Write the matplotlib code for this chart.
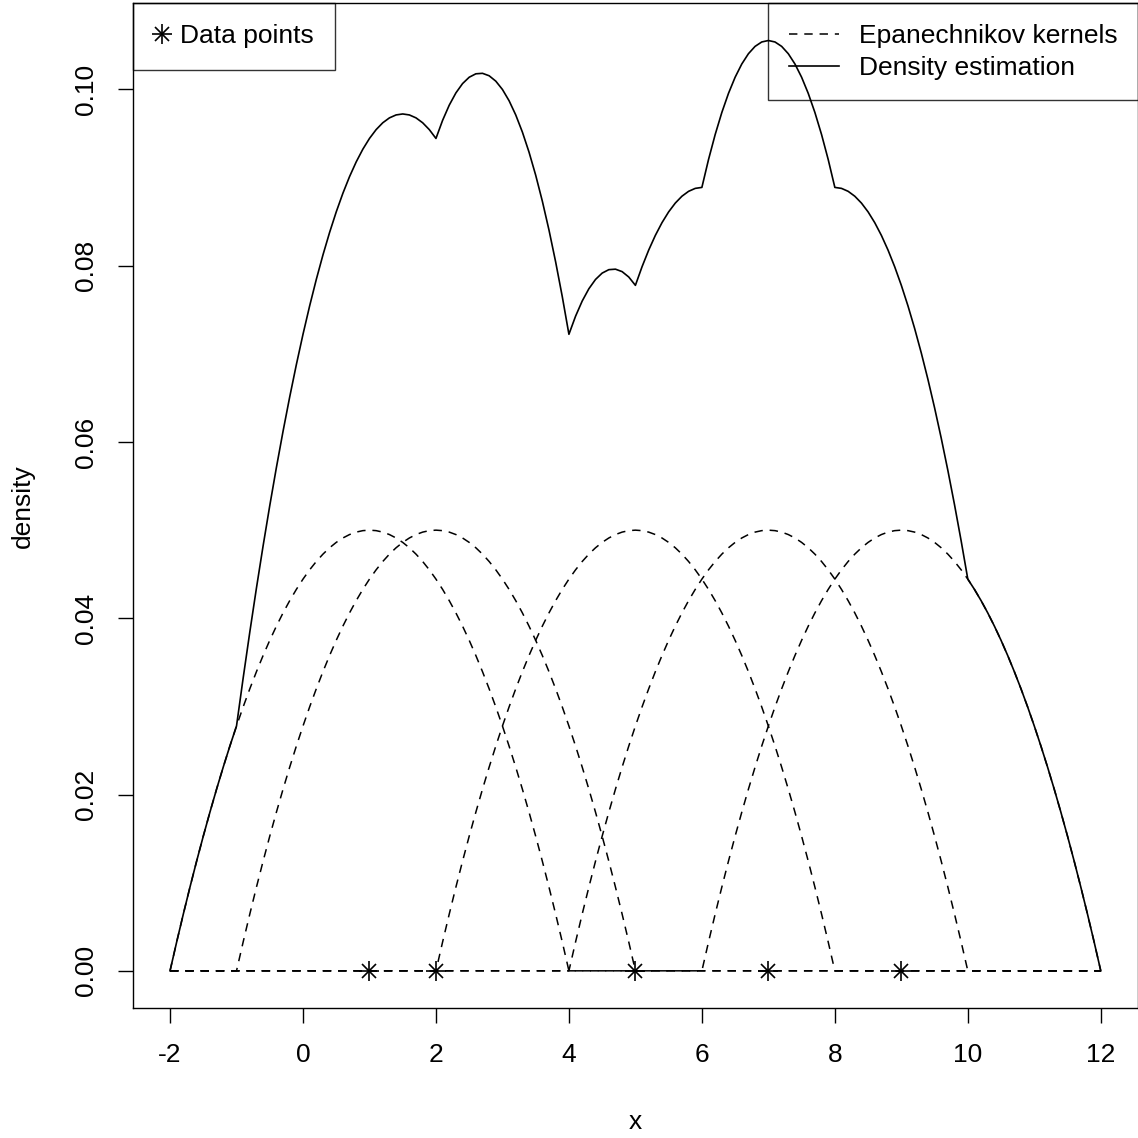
import numpy as np
import matplotlib
matplotlib.use("Agg")
import matplotlib.pyplot as plt
from matplotlib.lines import Line2D
from matplotlib.legend_handler import HandlerTuple

plt.rcParams['font.family'] = ['Liberation Sans', 'DejaVu Sans']
plt.rcParams['axes.unicode_minus'] = False

# data points and kernel bandwidth
data_x = [1, 2, 5, 7, 9]
bandwidth = 3
grid_step = 0.1
x_ticks = [-2, 0, 2, 4, 6, 8, 10, 12]
y_ticks = [0.00, 0.02, 0.04, 0.06, 0.08, 0.10]
y_labels = ["0.00", "0.02", "0.04", "0.06", "0.08", "0.10"]

n = len(data_x)
grid = np.arange(min(data_x) - bandwidth, max(data_x) + bandwidth + 1e-9, grid_step)


def epanechnikov(u):
    return np.where(np.abs(u) <= 1, 0.75 * (1 - u ** 2), 0.0)


kernels = [epanechnikov((grid - xi) / bandwidth) / (n * bandwidth) for xi in data_x]
density = np.sum(kernels, axis=0)

fig = plt.figure(figsize=(11.38, 11.38), dpi=100)
ax = fig.add_axes([0.1167, 0.1142, 0.8833, 0.8829])

dash = (0, (5.5, 4.5))
for k in kernels:
    ax.plot(grid, k, color='black', lw=1.1, linestyle=dash)
ax.plot(grid, density, color='black', lw=1.2)
ax.plot(data_x, np.zeros(n), linestyle='none', marker='+', ms=14, mew=1.2, color='black')
ax.plot(data_x, np.zeros(n), linestyle='none', marker='x', ms=10, mew=1.2, color='black')

ymax = density.max()
ax.set_xlim(grid[0] - 0.04 * (grid[-1] - grid[0]), grid[-1] + 0.04 * (grid[-1] - grid[0]))
ax.set_ylim(-0.04 * ymax, ymax * 1.04)

ax.set_xticks(x_ticks)
ax.set_yticks(y_ticks)
ax.set_yticklabels(y_labels, rotation=90, va='center')
ax.tick_params(direction='out', length=11, width=1, labelsize=19, pad=14)
for s in ax.spines.values():
    s.set_linewidth(1)
ax.set_xlabel('x', fontsize=19, labelpad=31)
ax.set_ylabel('density', fontsize=19, labelpad=28)

h_plus = Line2D([], [], linestyle='none', marker='+', ms=14, mew=1.2, color='black')
h_x = Line2D([], [], linestyle='none', marker='x', ms=10, mew=1.2, color='black')
leg1 = ax.legend([(h_plus, h_x)], ['Data points'], loc='upper left',
                 handler_map={tuple: HandlerTuple(ndivide=1, pad=0)},
                 fontsize=19, frameon=True, fancybox=False, edgecolor='black',
                 facecolor='none', borderaxespad=0, handlelength=0.6,
                 handletextpad=0.4, borderpad=0.8)
leg1.get_frame().set_linewidth(1)
ax.add_artist(leg1)

h_dash = Line2D([], [], color='black', lw=1.1, linestyle=dash)
h_solid = Line2D([], [], color='black', lw=1.2)
leg2 = ax.legend([h_dash, h_solid], ['Epanechnikov kernels', 'Density estimation'],
                 loc='upper right', fontsize=19, frameon=True, fancybox=False,
                 edgecolor='black', facecolor='none', borderaxespad=0,
                 handlelength=1.9, handletextpad=0.75, borderpad=0.78,
                 labelspacing=0.3)
leg2.get_frame().set_linewidth(1)

fig.savefig('out.png', dpi=100)
